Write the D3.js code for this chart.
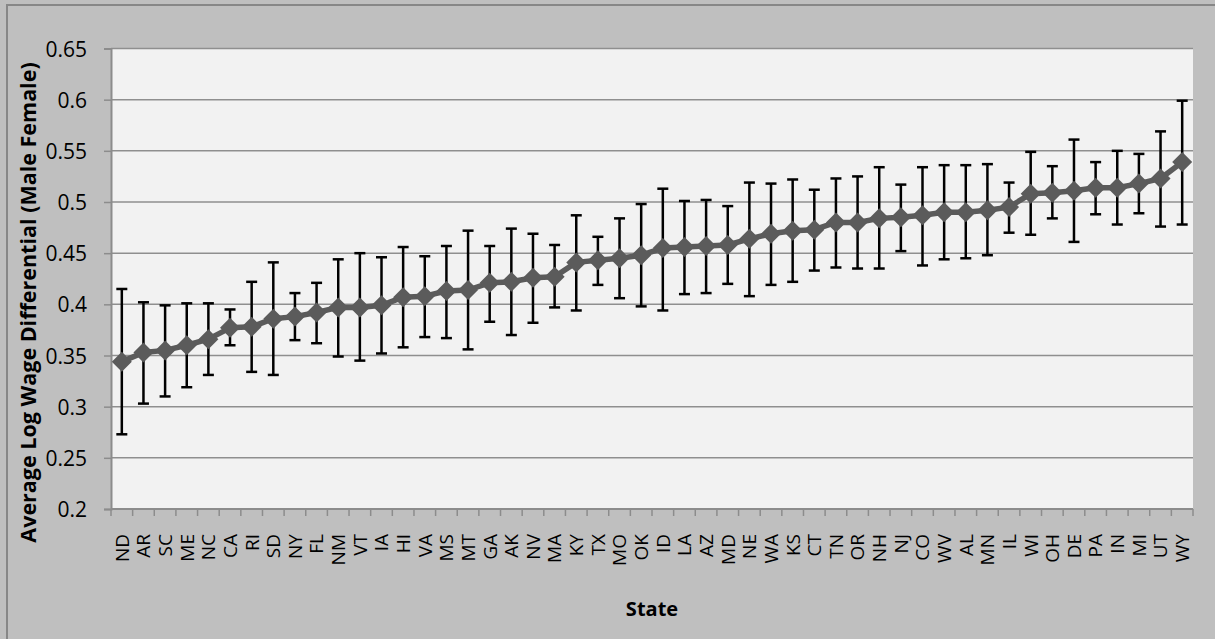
<!DOCTYPE html>
<html>
<head>
<meta charset="utf-8">
<script src="https://cdn.jsdelivr.net/npm/d3@7"></script>
<style>
  html, body { margin: 0; padding: 0; background: #bfbfbf; }
  svg { display: block; }
</style>
</head>
<body>
<svg id="chart" width="1215" height="639"></svg>
<script>
// State codes, ordered by average log wage differential
const states = ["ND","AR","SC","ME","NC","CA","RI","SD","NY","FL","NM","VT","IA","HI","VA","MS","MT","GA","AK","NV","MA","KY","TX","MO","OK","ID","LA","AZ","MD","NE","WA","KS","CT","TN","OR","NH","NJ","CO","WV","AL","MN","IL","WI","OH","DE","PA","IN","MI","UT","WY"];

// Average log wage differential (male vs female)
const meanDiff = [0.344,0.353,0.355,0.360,0.366,0.377,0.378,0.386,0.388,0.392,0.397,0.397,0.399,0.407,0.408,0.413,0.414,0.421,0.422,0.426,0.427,0.441,0.443,0.445,0.448,0.455,0.456,0.457,0.458,0.464,0.469,0.472,0.473,0.480,0.480,0.484,0.485,0.487,0.490,0.490,0.492,0.495,0.508,0.509,0.511,0.514,0.514,0.518,0.523,0.539];

// Upper and lower ends of the error bars
const upperBound = [0.415,0.402,0.399,0.401,0.401,0.395,0.422,0.441,0.411,0.421,0.444,0.450,0.446,0.456,0.447,0.457,0.472,0.457,0.474,0.469,0.458,0.487,0.466,0.484,0.498,0.513,0.501,0.502,0.496,0.519,0.518,0.522,0.512,0.523,0.525,0.534,0.517,0.534,0.536,0.536,0.537,0.519,0.549,0.535,0.561,0.539,0.550,0.547,0.569,0.599];
const lowerBound = [0.273,0.303,0.310,0.319,0.331,0.360,0.334,0.331,0.365,0.362,0.349,0.345,0.352,0.358,0.368,0.367,0.356,0.383,0.370,0.382,0.397,0.394,0.419,0.406,0.398,0.394,0.410,0.411,0.420,0.408,0.419,0.422,0.433,0.436,0.435,0.435,0.452,0.438,0.444,0.445,0.448,0.470,0.468,0.484,0.461,0.488,0.478,0.489,0.476,0.478];

// Y axis tick values
const yTicks = [0.2,0.25,0.3,0.35,0.4,0.45,0.5,0.55,0.6,0.65];

const yTitle = "Average Log Wage Differential  (Male Female)";
const xTitle = "State";

const svg = d3.select("#chart");
const W = 1215, H = 639;
const plot = { left: 111, right: 1193, top: 48.5, bottom: 509 };

// Outer chart frame
svg.append("rect").attr("x", 0).attr("y", 0).attr("width", W).attr("height", H).attr("fill", "#bfbfbf");
svg.append("rect")
  .attr("x", 7).attr("y", 5).attr("width", W + 20).attr("height", H + 20)
  .attr("fill", "none").attr("stroke", "#878787").attr("stroke-width", 2);

const x = d3.scaleBand().domain(states).range([plot.left, plot.right]).padding(0);
const y = d3.scaleLinear().domain([0.2, 0.65]).range([plot.bottom, plot.top]);
const cx = s => x(s) + x.bandwidth() / 2;

// Plot area
svg.append("rect")
  .attr("x", plot.left).attr("y", plot.top)
  .attr("width", plot.right - plot.left).attr("height", plot.bottom - plot.top)
  .attr("fill", "#f2f2f2");

// Horizontal gridlines
svg.append("g").selectAll("line").data(yTicks.slice(1)).join("line")
  .attr("x1", plot.left).attr("x2", plot.right)
  .attr("y1", d => y(d)).attr("y2", d => y(d))
  .attr("stroke", "#8f8f8f").attr("stroke-width", 1.5);

// Y axis
const yAxis = svg.append("g")
  .attr("transform", `translate(${plot.left},0)`)
  .call(d3.axisLeft(y).tickValues(yTicks).tickFormat(d => String(+d.toFixed(2))).tickSize(7).tickPadding(17));
yAxis.select(".domain").attr("stroke", "#8c8c8c").attr("stroke-width", 2);
yAxis.selectAll(".tick line").attr("stroke", "#8c8c8c").attr("stroke-width", 1.5);
yAxis.selectAll(".tick text")
  .attr("font-family", "'Open Sans', sans-serif").attr("font-size", 21).attr("fill", "#000")
  .attr("dy", "0.36em");

// X axis line and boundary ticks
svg.append("line")
  .attr("x1", plot.left).attr("x2", plot.right)
  .attr("y1", plot.bottom).attr("y2", plot.bottom)
  .attr("stroke", "#8c8c8c").attr("stroke-width", 2);
const boundaries = states.map(s => x(s)).concat([plot.right]);
svg.append("g").selectAll("line").data(boundaries).join("line")
  .attr("x1", d => d).attr("x2", d => d)
  .attr("y1", plot.bottom).attr("y2", plot.bottom + 7)
  .attr("stroke", "#8c8c8c").attr("stroke-width", 1.5);

// Rotated state labels
svg.append("g").selectAll("text").data(states).join("text")
  .attr("transform", d => `translate(${cx(d)},534) rotate(-90)`)
  .attr("text-anchor", "end")
  .attr("dy", "0.36em")
  .attr("font-family", "'Open Sans', sans-serif").attr("font-size", 19).attr("fill", "#000")
  .text(d => d);

// Error bars
const errG = svg.append("g").attr("stroke", "#000").attr("stroke-width", 2.5);
states.forEach((s, i) => {
  const px = cx(s);
  errG.append("line").attr("x1", px).attr("x2", px).attr("y1", y(upperBound[i])).attr("y2", y(lowerBound[i]));
  errG.append("line").attr("x1", px - 5.5).attr("x2", px + 5.5).attr("y1", y(upperBound[i])).attr("y2", y(upperBound[i]));
  errG.append("line").attr("x1", px - 5.5).attr("x2", px + 5.5).attr("y1", y(lowerBound[i])).attr("y2", y(lowerBound[i]));
});

// Series line
const line = d3.line().x((d, i) => cx(states[i])).y(d => y(d));
svg.append("path").datum(meanDiff)
  .attr("d", line).attr("fill", "none")
  .attr("stroke", "#5b5b5b").attr("stroke-width", 5.5).attr("stroke-linejoin", "round");

// Diamond markers
const diamond = d3.symbol().type(d3.symbolSquare).size(200);
svg.append("g").selectAll("path").data(meanDiff).join("path")
  .attr("transform", (d, i) => `translate(${cx(states[i])},${y(d)}) rotate(45)`)
  .attr("d", diamond)
  .attr("fill", "#5b5b5b");

// Axis titles
svg.append("text")
  .attr("transform", `translate(36,${(62 + 543) / 2}) rotate(-90)`)
  .attr("text-anchor", "middle")
  .attr("font-family", "'Open Sans', sans-serif").attr("font-weight", "bold").attr("font-size", 21.5)
  .attr("fill", "#000")
  .text(yTitle);

svg.append("text")
  .attr("x", (plot.left + plot.right) / 2).attr("y", 616)
  .attr("text-anchor", "middle")
  .attr("font-family", "'Open Sans', sans-serif").attr("font-weight", "bold").attr("font-size", 20)
  .attr("fill", "#000")
  .text(xTitle);
</script>
</body>
</html>
